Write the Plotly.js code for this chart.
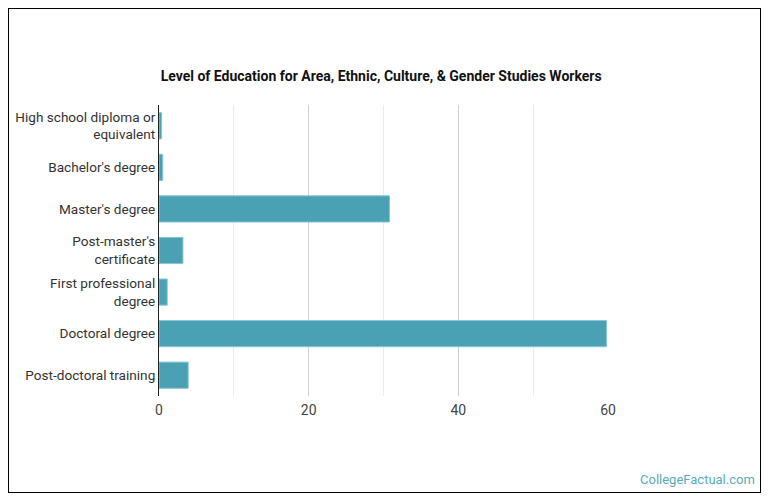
<!DOCTYPE html>
<html>
<head>
<meta charset="utf-8">
<script src="https://cdn.plot.ly/plotly-3.0.1.min.js"></script>
<style>
html,body{margin:0;padding:0;background:#fff;}
#wrap{position:relative;width:770px;height:503px;}
#chart{position:absolute;left:0;top:0;width:770px;height:503px;}
#frame{position:absolute;left:8px;top:8px;width:753px;height:485px;box-sizing:border-box;border:1px solid #000;pointer-events:none;}
</style>
</head>
<body>
<div id="wrap"><div id="chart"></div><div id="frame"></div></div>
<script>
const categories = [
  "High school diploma or<br>equivalent",
  "Bachelor's degree",
  "Master's degree",
  "Post-master's<br>certificate",
  "First professional<br>degree",
  "Doctoral degree",
  "Post-doctoral training"
];
const values = [0.35, 0.5, 30.8, 3.2, 1.1, 59.8, 3.9];
const xTicks = [0, 20, 40, 60];

const trace = {
  type: 'bar',
  orientation: 'h',
  y: categories,
  x: values,
  marker: {color: '#4aa1b4', line: {color: '#86c6d4', width: 1}},
  hoverinfo: 'skip'
};

const layout = {
  width: 770, height: 503,
  margin: {l: 159, r: 162, t: 105, b: 107},
  paper_bgcolor: '#ffffff', plot_bgcolor: '#ffffff',
  showlegend: false,
  bargap: 0.37,
  font: {family: 'Roboto, sans-serif', size: 13.6, color: '#333'},
  title: {
    text: '<b>Level of Education for Area, Ethnic, Culture, & Gender Studies Workers</b>',
    font: {family: 'Roboto, sans-serif', size: 14, color: '#111'},
    x: 0.495, xanchor: 'center', y: 1 - 76/503, yanchor: 'middle', xref: 'container', yref: 'container'
  },
  xaxis: {
    range: [0, 60],
    tickvals: xTicks,
    ticktext: xTicks.map(String),
    showgrid: true, gridcolor: '#d0d0d0', gridwidth: 1,
    minor: {dtick: 10, tick0: 0, showgrid: true, gridcolor: '#ececec', gridwidth: 1},
    zeroline: false, showline: false, ticks: '',
    ticklabelstandoff: 4,
    tickfont: {family: 'Roboto, sans-serif', size: 14, color: '#444'},
    fixedrange: true
  },
  yaxis: {
    autorange: 'reversed',
    showgrid: false, zeroline: false,
    showline: true, linecolor: '#222', linewidth: 1,
    ticks: '',
    ticklabelstandoff: 0,
    tickfont: {family: 'Roboto, sans-serif', size: 13.6, color: '#333'},
    fixedrange: true
  },
  annotations: [{
    text: 'CollegeFactual.com',
    xref: 'paper', yref: 'paper',
    x: (757 - 159) / 449, y: (396 - 480) / 291,
    xanchor: 'right', yanchor: 'middle',
    showarrow: false,
    font: {family: 'Roboto, sans-serif', size: 13, color: '#5aaabb'}
  }]
};

Plotly.newPlot('chart', [trace], layout, {displayModeBar: false, staticPlot: true});
</script>
</body>
</html>
